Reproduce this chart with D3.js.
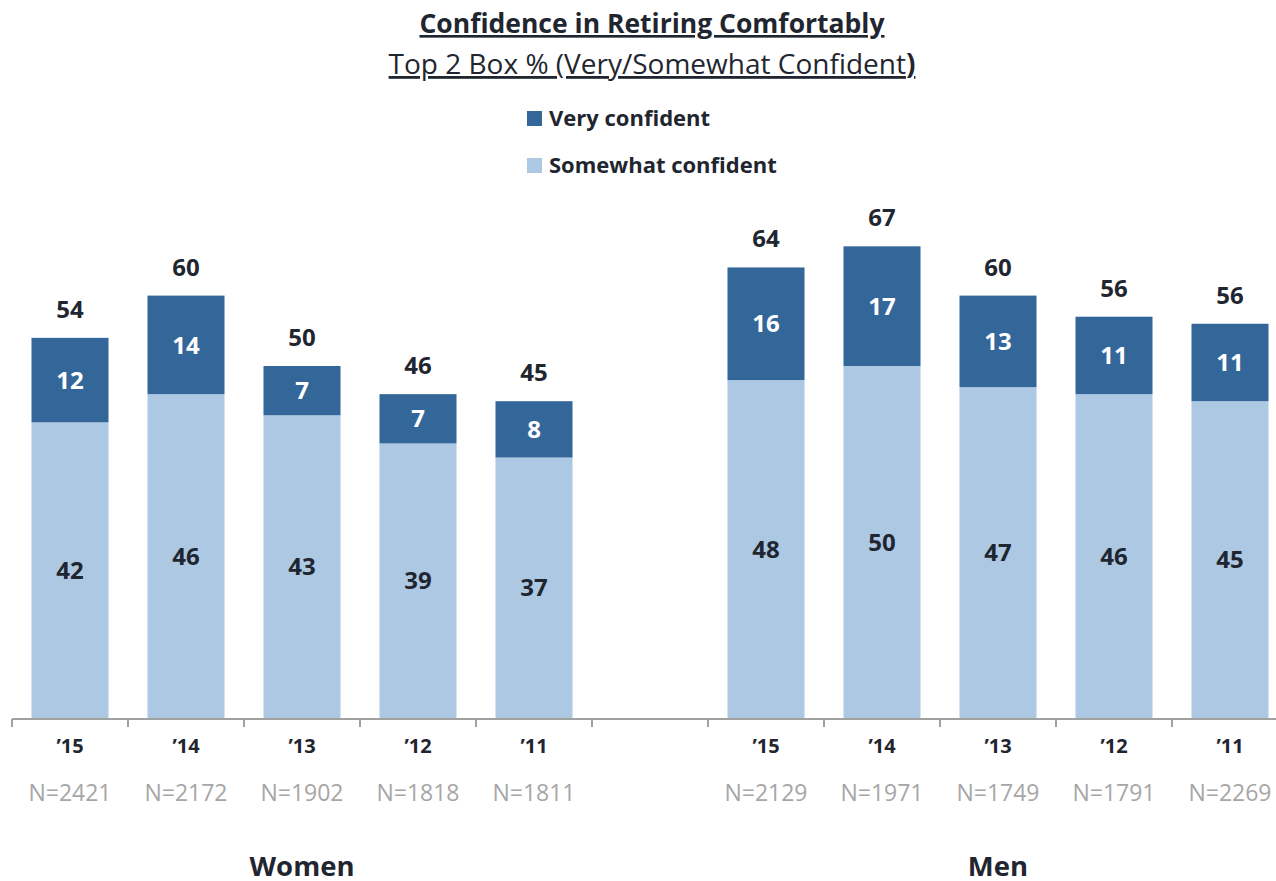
<!DOCTYPE html>
<html><head><meta charset="utf-8">
<script src="https://cdn.jsdelivr.net/npm/d3@7"></script>
<style>
body{margin:0;background:#fff;}
svg{display:block;font-family:"Open Sans", Lato, sans-serif;}
</style></head>
<body><svg id="c" width="1276" height="881"></svg>
<script>
const years = ["’15","’14","’13","’12","’11"];
const womenN = ["N=2421","N=2172","N=1902","N=1818","N=1811"];
const menN = ["N=2129","N=1971","N=1749","N=1791","N=2269"];
const womenVery = [12,14,7,7,8];
const womenSomewhat = [42,46,43,39,37];
const womenTotal = [54,60,50,46,45];
const menVery = [16,17,13,11,11];
const menSomewhat = [48,50,47,46,45];
const menTotal = [64,67,60,56,56];
const groups = ["Women","Men"];
const seriesNames = ["Very confident","Somewhat confident"];

const darkC = "#346799", lightC = "#ADC8E3", textC = "#1F2630", greyC = "#A6A6A6";

const rows = [];
years.forEach((y,i)=>rows.push({key:"W"+i, year:y, n:womenN[i], very:womenVery[i], some:womenSomewhat[i], total:womenTotal[i]}));
const slots = rows.map(d=>d.key).concat(["gap"]);
years.forEach((y,i)=>{rows.push({key:"M"+i, year:y, n:menN[i], very:menVery[i], some:menSomewhat[i], total:menTotal[i]}); slots.push("M"+i);});

const svg = d3.select("#c");
const x = d3.scaleBand().domain(slots).range([12, 1288]).paddingInner(0.336).paddingOuter(0.168);
const y = d3.scaleLinear().domain([0,100]).range([718, 14]);

// bars
const g = svg.append("g");
g.selectAll("rect.some").data(rows).join("rect")
  .attr("x", d=>x(d.key)).attr("width", x.bandwidth())
  .attr("y", d=>y(d.some)).attr("height", d=>y(0)-y(d.some)).attr("fill", lightC);
g.selectAll("rect.very").data(rows).join("rect")
  .attr("x", d=>x(d.key)).attr("width", x.bandwidth())
  .attr("y", d=>y(d.some+d.very)).attr("height", d=>y(d.some)-y(d.some+d.very)).attr("fill", darkC);

// labels
const cx = d=>x(d.key)+x.bandwidth()/2;
g.selectAll("text.some").data(rows).join("text")
  .attr("x", cx).attr("y", d=>(y(0)+y(d.some))/2).attr("dy","0.36em")
  .attr("text-anchor","middle").attr("font-weight","bold").attr("font-size",24).attr("fill",textC)
  .text(d=>d.some);
g.selectAll("text.very").data(rows).join("text")
  .attr("x", cx).attr("y", d=>(y(d.some)+y(d.some+d.very))/2).attr("dy","0.36em")
  .attr("text-anchor","middle").attr("font-weight","bold").attr("font-size",24).attr("fill","#fff")
  .text(d=>d.very);
g.selectAll("text.tot").data(rows).join("text")
  .attr("x", cx).attr("y", d=>y(d.some+d.very)-20)
  .attr("text-anchor","middle").attr("font-weight","bold").attr("font-size",24).attr("fill",textC)
  .text(d=>d.total);

// axis
const axisY = 719;
const ax = svg.append("g").attr("transform",`translate(0,${axisY})`);
ax.append("line").attr("x1",12).attr("x2",1276).attr("stroke","#A0A0A0").attr("stroke-width",2);
const bounds = d3.range(slots.length).map(i=>x.range()[0]+i*x.step());
ax.selectAll("line.t").data(bounds).join("line")
  .attr("x1",d=>d).attr("x2",d=>d).attr("y1",0).attr("y2",8).attr("stroke","#A0A0A0").attr("stroke-width",2);
ax.selectAll("text.yr").data(rows).join("text")
  .attr("x",cx).attr("y",34).attr("text-anchor","middle").attr("font-weight","bold").attr("font-size",20).attr("fill",textC)
  .text(d=>d.year);
ax.selectAll("text.n").data(rows).join("text")
  .attr("x",cx).attr("y",82).attr("text-anchor","middle").attr("font-size",23).attr("fill",greyC)
  .text(d=>d.n);

// group labels
const gx = [ (x("W0")+x("W4")+x.bandwidth())/2, (x("M0")+x("M4")+x.bandwidth())/2 ];
svg.selectAll("text.grp").data(groups).join("text")
  .attr("x",(d,i)=>gx[i]).attr("y",876).attr("text-anchor","middle").attr("font-weight","bold").attr("font-size",27.5).attr("fill",textC)
  .text(d=>d);

// title
svg.append("text").attr("x",652).attr("y",33).attr("text-anchor","middle").attr("font-weight","bold").attr("font-size",26.5)
  .attr("fill",textC).attr("text-decoration","underline").text("Confidence in Retiring Comfortably");
const st = svg.append("text").attr("x",652).attr("y",74).attr("text-anchor","middle").attr("font-size",28)
  .attr("fill",textC).attr("text-decoration","underline");
st.append("tspan").text("Top 2 Box % (Very/Somewhat Confident");
st.append("tspan").attr("font-weight","bold").text(")");

// legend
const leg = svg.append("g");
const legColors = [darkC, lightC];
leg.selectAll("rect").data(seriesNames).join("rect")
  .attr("x",527).attr("y",(d,i)=>111+i*47).attr("width",15).attr("height",15).attr("fill",(d,i)=>legColors[i]);
leg.selectAll("text").data(seriesNames).join("text")
  .attr("x",549).attr("y",(d,i)=>126+i*47).attr("font-weight","bold").attr("font-size",22).attr("fill",textC)
  .text(d=>d);
</script></body></html>
